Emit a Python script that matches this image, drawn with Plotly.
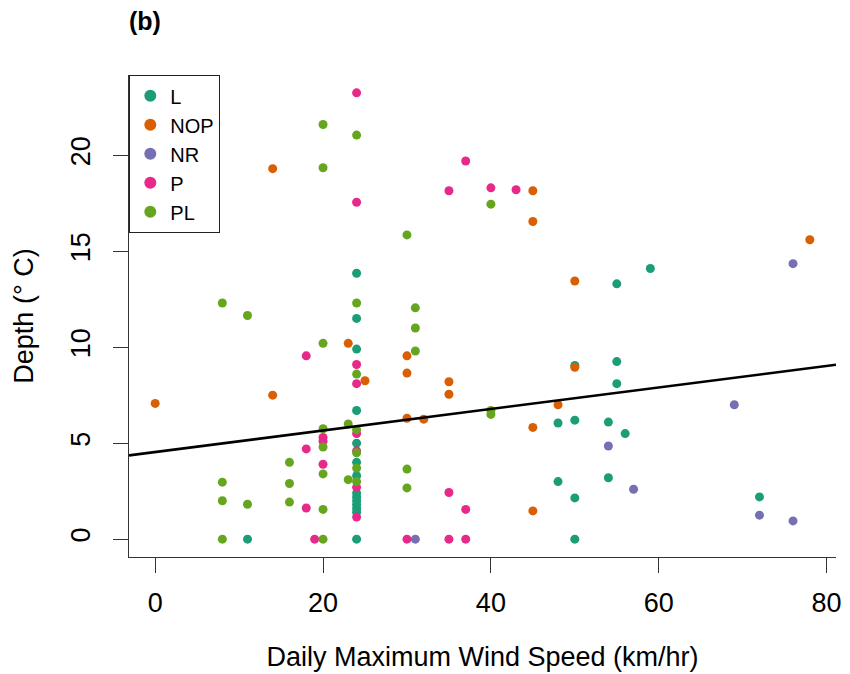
import plotly.graph_objects as go

# ---- data ----
groups = ["L", "NOP", "NR", "P", "PL"]
colors = ["#1B9E77", "#D95F02", "#7570B3", "#E7298A", "#66A61E"]

L_x = [11, 24, 24, 24, 24, 24, 24, 24, 24, 24, 24, 24, 24, 24, 24,
       48, 48, 50, 50, 50, 50, 54, 54, 55, 55, 55, 56, 59, 72]
L_y = [0, 13.85, 11.5, 9.9, 6.7, 5.0, 4.0, 3.3, 2.4, 2.2, 2.0, 1.8, 1.6, 1.4, 0,
       6.05, 3.0, 9.05, 6.2, 2.15, 0, 6.1, 3.2, 13.3, 9.25, 8.1, 5.5, 14.1, 2.2]

NOP_x = [0, 14, 14, 23, 25, 30, 30, 30, 32, 35, 35, 45, 45, 45, 45, 48, 50, 50, 78]
NOP_y = [7.07, 19.3, 7.5, 10.2, 8.25, 9.55, 8.65, 6.3, 6.25, 8.2, 7.55,
         18.15, 16.55, 5.82, 1.47, 7.0, 13.45, 8.95, 15.6]

NR_x = [31, 54, 57, 69, 72, 76, 76]
NR_y = [0, 4.85, 2.6, 7.0, 1.25, 14.35, 0.95]

P_x = [18, 18, 18, 19, 20, 20, 20, 24, 24, 24, 24, 24, 24, 24, 24,
       30, 35, 35, 35, 37, 37, 37, 40, 43]
P_y = [9.55, 4.7, 1.62, 0, 5.3, 5.1, 3.9, 23.25, 17.55, 9.1, 8.1, 5.5, 4.6, 2.7, 1.15,
       0, 18.15, 2.43, 0, 19.7, 1.55, 0, 18.3, 18.2]

PL_x = [8, 8, 8, 8, 11, 11, 16, 16, 16, 20, 20, 20, 20, 20, 20, 20, 20, 23, 23,
        24, 24, 24, 24, 24, 24, 24, 30, 30, 30, 31, 31, 31, 40, 40, 40]
PL_y = [12.3, 2.97, 2.0, 0, 11.65, 1.82, 4.0, 2.9, 1.93,
        21.6, 19.35, 10.2, 5.75, 4.8, 3.4, 1.55, 0, 6.0, 3.1,
        21.05, 12.3, 8.6, 5.7, 4.5, 3.7, 3.0, 15.85, 3.65, 2.67,
        12.05, 11.0, 9.8, 17.45, 6.7, 6.5]

fit_intercept = 4.54
fit_slope = 0.056

x_ticks = [0, 20, 40, 60, 80]
y_ticks = [0, 5, 10, 15, 20]

xs = [L_x, NOP_x, NR_x, P_x, PL_x]
ys = [L_y, NOP_y, NR_y, P_y, PL_y]

x_range = [-3.12, 81.12]
y_range = [-0.93, 24.18]

FONT = "Liberation Sans, Arial, sans-serif"

fig = go.Figure()
for name, col, gx, gy in zip(groups, colors, xs, ys):
    fig.add_trace(go.Scatter(
        x=gx, y=gy, mode="markers", name=name,
        marker=dict(color=col, size=9, line=dict(width=0)),
    ))

line_x = x_range
line_y = [fit_intercept + fit_slope * v for v in line_x]
fig.add_trace(go.Scatter(x=line_x, y=line_y, mode="lines",
                         line=dict(color="black", width=2.6),
                         showlegend=False, hoverinfo="skip"))

fig.update_layout(
    width=850, height=674,
    margin=dict(l=129, r=14, t=75, b=117),
    paper_bgcolor="white", plot_bgcolor="white",
    font=dict(family=FONT, color="black"),
    showlegend=True,
    legend=dict(x=0, y=1, xanchor="left", yanchor="top",
                bordercolor="#222", borderwidth=1.3, bgcolor="white",
                font=dict(size=20, family=FONT), itemsizing="constant",
                tracegroupgap=0),
    annotations=[dict(text="<b>(b)</b>", xref="paper", yref="paper",
                      x=-0.003, y=1.0, yshift=54, xanchor="left", yanchor="middle",
                      showarrow=False, font=dict(size=25, family=FONT))],
)
fig.update_xaxes(range=x_range, tickvals=x_ticks, showgrid=False, zeroline=False,
                 automargin=False,
                 showline=True, linecolor="#333", linewidth=1.3,
                 ticks="outside", ticklen=15, tickwidth=1.3, tickcolor="#333",
                 tickfont=dict(size=27), ticklabelstandoff=6,
                 title=dict(text="Daily Maximum Wind Speed (km/hr)",
                            font=dict(size=27), standoff=30))
fig.update_yaxes(range=y_range, tickvals=y_ticks, showgrid=False, zeroline=False,
                 automargin=False,
                 showline=True, linecolor="#333", linewidth=1.3,
                 ticks="outside", ticklen=15, tickwidth=1.3, tickcolor="#333",
                 tickangle=-90, tickfont=dict(size=27), ticklabelstandoff=12,
                 title=dict(text="Depth (° C)", font=dict(size=27), standoff=24))

fig.write_html("out.html")
